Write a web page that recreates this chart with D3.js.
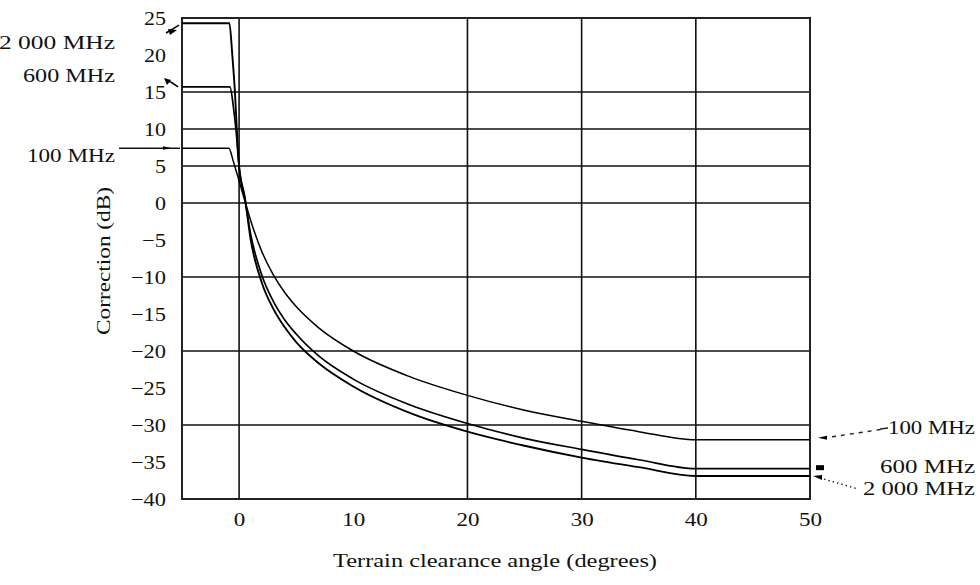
<!DOCTYPE html>
<html>
<head>
<meta charset="utf-8">
<script src="https://cdn.jsdelivr.net/npm/d3@7"></script>
<style>
  html, body { margin: 0; padding: 0; background: #fff; }
  svg { display: block; }
  text { font-family: "Liberation Serif", "Times New Roman", serif; fill: #111; }
</style>
</head>
<body>
<svg id="chart" width="980" height="585"></svg>
<script>
// ---- data ----
const angles100  = [-5, -0.9, -0.5, -0.25, 0, 0.5, 1, 2, 3, 4, 5, 7, 10, 15, 20, 25, 30, 35, 40, 50];
const corr100    = [7.4, 7.4, 5.6, 4.3, 3.0, 0.3, -2.3, -6.6, -9.7, -12.1, -14.0, -16.9, -20.0, -23.5, -26.0, -28.0, -29.5, -30.9, -32.0, -32.0];

const angles600  = [-5, -0.8, -0.5, -0.25, 0, 0.5, 1, 2, 3, 4, 5, 7, 10, 15, 20, 25, 30, 35, 40, 50];
const corr600    = [15.7, 15.7, 13.0, 9.5, 4.8, 0.6, -4.1, -9.8, -13.3, -15.8, -17.7, -20.7, -23.8, -27.3, -29.8, -31.8, -33.3, -34.7, -35.9, -35.9];

const angles2000 = [-5, -0.85, -0.6, -0.35, -0.2, 0, 0.5, 1, 2, 3, 4, 5, 7, 10, 15, 20, 25, 30, 35, 40, 50];
const corr2000   = [24.3, 24.3, 20.1, 14.6, 10.0, 5.0, 0.8, -4.8, -10.8, -14.3, -16.8, -18.8, -21.7, -24.8, -28.4, -30.9, -32.8, -34.4, -35.7, -36.9, -36.9];

const seriesNames = ["100 MHz", "600 MHz", "2 000 MHz"];
const xTicks = [0, 10, 20, 30, 40, 50];
const yTicks = [25, 20, 15, 10, 5, 0, -5, -10, -15, -20, -25, -30, -35, -40];
const xGrid = [0, 20, 30, 40];
const yGrid = [15, 10, 5, 0, -10, -20, -30];
const xTitle = "Terrain clearance angle (degrees)";
const yTitle = "Correction (dB)";

// ---- layout ----
const svg = d3.select("#chart");
const x = d3.scaleLinear().domain([-5, 50]).range([182, 810]);
const y = d3.scaleLinear().domain([-40, 25]).range([499, 18]);
const fmt = v => (v < 0 ? "\u2212" + Math.abs(v) : String(v));

function stretchText(sel, txt, width) {
  sel.text(txt).attr("textLength", width).attr("lengthAdjust", "spacingAndGlyphs");
  return sel;
}

// grid
svg.append("g").selectAll("line").data(xGrid).join("line")
  .attr("x1", d => x(d)).attr("x2", d => x(d))
  .attr("y1", y(25)).attr("y2", y(-40))
  .attr("stroke", "#111").attr("stroke-width", 1.6);
svg.append("g").selectAll("line").data(yGrid).join("line")
  .attr("x1", x(-5)).attr("x2", x(50))
  .attr("y1", d => y(d)).attr("y2", d => y(d))
  .attr("stroke", "#111").attr("stroke-width", 1.6);

// frame
svg.append("rect")
  .attr("x", x(-5)).attr("y", y(25))
  .attr("width", x(50) - x(-5)).attr("height", y(-40) - y(25))
  .attr("fill", "none").attr("stroke", "#222").attr("stroke-width", 2);

// axes labels via d3 axes (no tick lines / domain)
const yAxis = d3.axisLeft(y).tickValues(yTicks).tickFormat(fmt).tickSize(0).tickPadding(0);
const yg = svg.append("g").attr("transform", `translate(${x(-5) - 16},0)`).call(yAxis);
yg.select(".domain").remove();
yg.selectAll("text").attr("font-size", 19).attr("font-family", "Liberation Serif").attr("fill", "#111")
  .attr("dy", "0.34em")
  .each(function(d) { const w = (String(Math.abs(d)).length * 11) + (d < 0 ? 13 : 0); d3.select(this).attr("textLength", w).attr("lengthAdjust", "spacingAndGlyphs"); });

const xAxis = d3.axisBottom(x).tickValues(xTicks).tickFormat(fmt).tickSize(0).tickPadding(0);
const xg = svg.append("g").attr("transform", `translate(0,${y(-40) + 21})`).call(xAxis);
xg.select(".domain").remove();
xg.selectAll("text").attr("font-size", 19).attr("font-family", "Liberation Serif").attr("fill", "#111")
  .attr("dy", "0.3em")
  .each(function(d) { const w = String(d).length * 11.5; d3.select(this).attr("textLength", w).attr("lengthAdjust", "spacingAndGlyphs"); });

// axis titles
stretchText(svg.append("text").attr("x", 495).attr("y", 567).attr("text-anchor", "middle").attr("font-size", 19), xTitle, 324);
stretchText(svg.append("text").attr("transform", "translate(110,261) rotate(-90)").attr("text-anchor", "middle").attr("font-size", 19), yTitle, 148);

// curves
const line = d3.line().x(d => x(d[0])).y(d => y(d[1])).curve(d3.curveMonotoneX);
const curves = [
  { a: angles100, c: corr100, w: 1.5 },
  { a: angles600, c: corr600, w: 1.7 },
  { a: angles2000, c: corr2000, w: 1.9 }
];
svg.append("g").selectAll("path").data(curves).join("path")
  .attr("d", s => line(s.a.map((v, i) => [v, s.c[i]])))
  .attr("fill", "none").attr("stroke", "#000").attr("stroke-width", s => s.w)
  .attr("stroke-linejoin", "round");

// ---- left annotations ----
const L = svg.append("g");
stretchText(L.append("text").attr("x", 115).attr("y", 49).attr("text-anchor", "end").attr("font-size", 19), seriesNames[2], 116);
stretchText(L.append("text").attr("x", 115).attr("y", 82).attr("text-anchor", "end").attr("font-size", 19), seriesNames[1], 92);
stretchText(L.append("text").attr("x", 115).attr("y", 162).attr("text-anchor", "end").attr("font-size", 19), seriesNames[0], 88);
// 100 MHz leader
L.append("line").attr("x1", 119).attr("x2", x(-5) - 2).attr("y1", y(7.4)).attr("y2", y(7.4))
  .attr("stroke", "#111").attr("stroke-width", 1.4);
L.append("path").attr("d", `M163,${y(7.4) - 2} L172,${y(7.4)} L163,${y(7.4) + 1.5} Z`).attr("fill", "#000");
// 2000 MHz arrow
L.append("path").attr("d", `M166,33 Q171,30 179,${y(24.3) + 2}`).attr("fill", "none").attr("stroke", "#000").attr("stroke-width", 1.5);
L.append("path").attr("d", `M168,29 L177,30 L170,35 Z`).attr("fill", "#000");
// 600 MHz arrow
L.append("path").attr("d", `M166,80 Q172,82 178,${y(15.7)}`).attr("fill", "none").attr("stroke", "#000").attr("stroke-width", 1.5);
L.append("path").attr("d", `M164,78 L171,80 L167,85 Z`).attr("fill", "#000");

// ---- right annotations ----
const R = svg.append("g");
// 100 MHz
R.append("path").attr("d", `M${x(50) + 8},${y(-32.0) - 2} L${x(50) + 17},${y(-32.0) - 4} L${x(50) + 17},${y(-32.0)} Z`).attr("fill", "#000");
R.append("line").attr("x1", x(50) + 22).attr("y1", y(-32.0) - 3).attr("x2", 884).attr("y2", 429)
  .attr("stroke", "#222").attr("stroke-width", 1.4).attr("stroke-dasharray", "4,5");
R.append("line").attr("x1", 880).attr("y1", 429).attr("x2", 888).attr("y2", 428)
  .attr("stroke", "#222").attr("stroke-width", 1.4);
stretchText(R.append("text").attr("x", 975).attr("y", 434).attr("text-anchor", "end").attr("font-size", 19), seriesNames[0], 87);
// 600 MHz
R.append("rect").attr("x", x(50) + 6).attr("y", y(-35.9) - 3.5).attr("width", 8).attr("height", 5).attr("fill", "#000");
stretchText(R.append("text").attr("x", 975).attr("y", 473).attr("text-anchor", "end").attr("font-size", 19), seriesNames[1], 95);
// 2000 MHz
R.append("path").attr("d", `M${x(50) + 3},${y(-36.9)} L${x(50) + 12},${y(-36.9) - 1} L${x(50) + 12},${y(-36.9) + 4} Z`).attr("fill", "#000");
R.append("line").attr("x1", x(50) + 14).attr("y1", y(-36.9) + 3).attr("x2", 858).attr("y2", 489)
  .attr("stroke", "#222").attr("stroke-width", 1.4).attr("stroke-dasharray", "1.5,3");
stretchText(R.append("text").attr("x", 975).attr("y", 495).attr("text-anchor", "end").attr("font-size", 19), seriesNames[2], 112);
</script>
</body>
</html>
